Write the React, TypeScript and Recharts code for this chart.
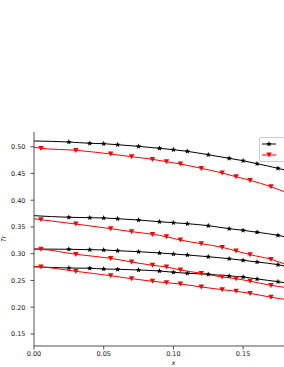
import { Legend, Line, LineChart, XAxis, YAxis } from "recharts";

// x positions of the plotted points (first/last are line ends without marker)
const blackX = [0, 0.025, 0.04, 0.05, 0.06, 0.075, 0.09, 0.1, 0.11, 0.125, 0.14, 0.15, 0.16, 0.175, 0.18];
const redX = [0, 0.005, 0.03, 0.055, 0.07, 0.085, 0.095, 0.105, 0.12, 0.135, 0.145, 0.155, 0.17, 0.18];

const black1 = [0.5107, 0.5088, 0.5064, 0.5056, 0.5037, 0.5007, 0.497, 0.4944, 0.4914, 0.485, 0.4783, 0.4738, 0.4682, 0.4596, 0.4563];
const black2 = [0.3711, 0.3681, 0.3673, 0.3668, 0.3654, 0.363, 0.3598, 0.358, 0.3561, 0.3524, 0.3468, 0.3438, 0.3401, 0.3344, 0.3316];
const black3 = [0.3088, 0.3083, 0.3075, 0.307, 0.3056, 0.3038, 0.3014, 0.2995, 0.2976, 0.2944, 0.2907, 0.2877, 0.2845, 0.2795, 0.2768];
const black4 = [0.2757, 0.2733, 0.2728, 0.2714, 0.2709, 0.2696, 0.2677, 0.2653, 0.2634, 0.2615, 0.2584, 0.2565, 0.2528, 0.2477, 0.2456];

const red1 = [0.4989, 0.497, 0.4933, 0.4864, 0.4813, 0.4765, 0.472, 0.4677, 0.4596, 0.4509, 0.4439, 0.4372, 0.4252, 0.4155];
const red2 = [0.3654, 0.3636, 0.3555, 0.3468, 0.3412, 0.3363, 0.3318, 0.3256, 0.3187, 0.312, 0.3051, 0.2982, 0.2896, 0.2805];
const red3 = [0.3088, 0.3083, 0.2989, 0.2914, 0.2845, 0.2784, 0.2752, 0.2696, 0.2634, 0.2565, 0.2533, 0.2485, 0.241, 0.237];
const red4 = [0.2757, 0.2752, 0.2671, 0.2589, 0.2533, 0.2485, 0.2458, 0.2434, 0.2378, 0.2328, 0.2298, 0.226, 0.2186, 0.2146];

const xTicks = [0, 0.05, 0.1, 0.15];
const yTicks = [0.15, 0.2, 0.25, 0.3, 0.35, 0.4, 0.45, 0.5];

const legendLabels = ["Numerical", "Exact"];

const FONT = "DejaVu Sans, sans-serif";
const AXIS = "#262626";

function toRows(xs: number[], ys: number[]) {
  return xs.map((x, i) => ({ x, y: ys[i] }));
}

function starPath(cx: number, cy: number, ro: number, ri: number) {
  let d = "";
  for (let k = 0; k < 10; k++) {
    const r = k % 2 === 0 ? ro : ri;
    const a = -Math.PI / 2 + (k * Math.PI) / 5;
    d += (k === 0 ? "M" : "L") + (cx + r * Math.cos(a)).toFixed(2) + "," + (cy + r * Math.sin(a)).toFixed(2);
  }
  return d + "Z";
}

function makeDot(kind: "star" | "tri", count: number) {
  return (props: any) => {
    const { cx, cy, index } = props;
    const key = `${kind}-${index}`;
    if (index === 0 || index === count - 1 || cx == null) return <g key={key} />;
    if (kind === "star") return <path key={key} d={starPath(cx, cy, 2.9, 1.25)} fill="#000" />;
    return (
      <path
        key={key}
        d={`M${cx - 2.7},${cy - 2.4}L${cx + 2.7},${cy - 2.4}L${cx},${cy + 2.6}Z`}
        fill="#ff0000"
      />
    );
  };
}

function LegendBox() {
  const row = (kind: "star" | "tri", label: string) => (
    <div style={{ display: "flex", alignItems: "center", height: 11 }}>
      <svg width={14} height={8} style={{ flex: "none" }}>
        <line x1={0} y1={4} x2={14} y2={4} stroke={kind === "star" ? "#000" : "#ff0000"} strokeWidth={1} />
        {kind === "star" ? (
          <path d={starPath(7, 4, 2.9, 1.25)} fill="#000" />
        ) : (
          <path d="M4.3,1.6L9.7,1.6L7,6.6Z" fill="#ff0000" />
        )}
      </svg>
      <span style={{ marginLeft: 8, whiteSpace: "nowrap" }}>{label}</span>
    </div>
  );
  return (
    <div
      style={{
        border: "1px solid #cccccc",
        borderRadius: 2,
        background: "#fff",
        padding: "0.5px 2px",
        fontFamily: FONT,
        fontSize: 6.5,
        color: "#000",
      }}
    >
      {row("star", legendLabels[0])}
      {row("tri", legendLabels[1])}
    </div>
  );
}

function XLabel(props: any) {
  const vb = props.viewBox;
  return (
    <text x={vb.x + vb.width / 2} y={365} textAnchor="middle" fontFamily={FONT} fontStyle="italic" fontSize={6.5} fill="#000">
      x
    </text>
  );
}

function YLabel(props: any) {
  const vb = props.viewBox;
  const cx = vb.x + 6;
  const cy = vb.y + vb.height / 2;
  return (
    <text x={cx} y={cy} textAnchor="middle" transform={`rotate(-90, ${cx}, ${cy})`} fontFamily={FONT} fontStyle="italic" fontSize={6.5} fill="#000">
      Tr
    </text>
  );
}

const blackSeries = [black1, black2, black3, black4];
const redSeries = [red1, red2, red3, red4];

export default function App() {
  const tickStyle = { fontSize: 6.5, fill: "#222", fontFamily: FONT };
  return (
    <div style={{ position: "fixed", left: 0, top: 0, width: 284, height: 367, overflow: "hidden", background: "#fff" }}>
      <LineChart width={340} height={367} margin={{ top: 132, right: 27.2, bottom: 0, left: 0 }}>
        <XAxis
          type="number"
          dataKey="x"
          domain={[0, 0.2]}
          ticks={xTicks}
          tickFormatter={(v: number) => v.toFixed(2)}
          height={21}
          tickSize={3.5}
          tickMargin={1.5}
          tick={tickStyle}
          stroke={AXIS}
          strokeWidth={0.8}
          allowDataOverflow
          label={<XLabel />}
        />
        <XAxis xAxisId="top" orientation="top" type="number" domain={[0, 0.2]} height={0} tick={false} tickLine={false} stroke={AXIS} strokeWidth={0.8} />
        <YAxis
          type="number"
          domain={[0.1275, 0.5275]}
          ticks={yTicks}
          tickFormatter={(v: number) => v.toFixed(2)}
          width={34}
          tickSize={3.5}
          tickMargin={5}
          tick={tickStyle}
          stroke={AXIS}
          strokeWidth={0.8}
          allowDataOverflow
          label={<YLabel />}
        />
        <YAxis yAxisId="right" orientation="right" width={0} tick={false} tickLine={false} stroke={AXIS} strokeWidth={0.8} />
        <Legend
          layout="horizontal"
          verticalAlign="middle"
          align="center"
          content={<LegendBox />}
          wrapperStyle={{ left: 259, top: 136.5, width: "auto", height: "auto" }}
        />
        {blackSeries.map((s, i) => (
          <Line
            key={`b${i}`}
            data={toRows(blackX, s)}
            dataKey="y"
            type="monotone"
            stroke="#000"
            strokeWidth={1}
            dot={makeDot("star", blackX.length)}
            activeDot={false}
            isAnimationActive={false}
            legendType="none"
          />
        ))}
        {redSeries.map((s, i) => (
          <Line
            key={`r${i}`}
            data={toRows(redX, s)}
            dataKey="y"
            type="monotone"
            stroke="#ff0000"
            strokeWidth={1}
            dot={makeDot("tri", redX.length)}
            activeDot={false}
            isAnimationActive={false}
            legendType="none"
          />
        ))}
      </LineChart>
    </div>
  );
}
